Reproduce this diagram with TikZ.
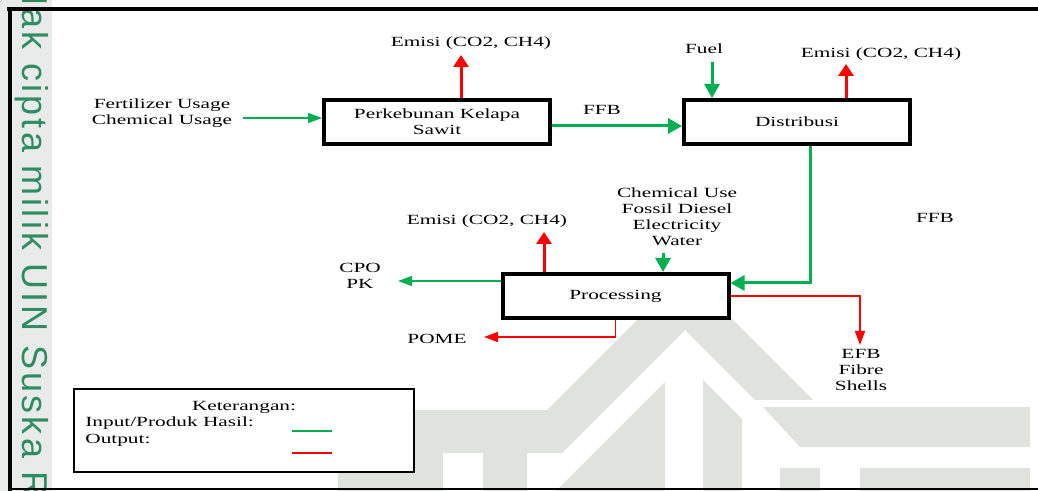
\documentclass[tikz,border=0pt]{standalone}
\usepackage{fontspec}
\setmainfont[FakeStretch=1.52]{Liberation Serif}
\newfontfamily\wmfont[LetterSpace=9]{Liberation Sans}
\usetikzlibrary{arrows.meta}
\definecolor{ingreen}{RGB}{0,176,80}
\definecolor{outred}{RGB}{255,0,0}
\definecolor{wmgrey}{RGB}{224,226,221}
\definecolor{stripgrey}{RGB}{233,235,234}
\definecolor{wmteal}{RGB}{46,140,96}

\begin{document}
\begin{tikzpicture}[x=0.5pt,y=-0.5pt,font=\fontsize{7}{8}\selectfont]
  \tikzstyle{blok}=[draw,line width=2pt,fill=white,minimum width=113pt,minimum height=22pt,align=center,inner sep=0pt]
  \tikzstyle{teks}=[align=center,inner sep=1pt]
  \tikzstyle{inthick}=[ingreen,line width=1.5pt,-{Triangle[length=7pt,width=7.5pt]}]
  \tikzstyle{inthin}=[ingreen,line width=0.75pt,-{Triangle[length=7pt,width=5pt]}]
  \tikzstyle{outthick}=[outred,line width=1.5pt,-{Triangle[length=6pt,width=7.5pt]}]
  \tikzstyle{outthin}=[outred,line width=0.75pt,-{Triangle[length=7pt,width=5pt]}]

  \useasboundingbox (0,0) rectangle (1038,491);

  % WATERMARK
  \fill[stripgrey] (0,0) rectangle (52,491);
  \begin{scope}
    \clip (0,0) rectangle (52,491);
    \node[wmteal,rotate=-90,anchor=base west,inner sep=0pt,font=\wmfont\fontsize{18}{18}\selectfont] (hakcipta) at (23,-21) {Hak cipta milik UIN Suska Riau};
  \end{scope}
  \fill[wmgrey] (338,410) -- (547,410) -- (685,272) -- (813,400) -- (755,400) -- (685,330) -- (562,453) -- (527,453) -- (527,491) -- (483,491) -- (483,453) -- (443,453) -- (443,491) -- (338,491) -- cycle;
  \fill[wmgrey] (556,491) -- (665,382) -- (665,491) -- cycle;
  \fill[wmgrey] (703,380) -- (742,419) -- (742,491) -- (703,491) -- cycle;
  \fill[wmgrey] (763,407) -- (1030,407) -- (1030,447) -- (800,447) -- cycle;
  \fill[wmgrey] (780,468) rectangle (820,491);
  \fill[wmgrey] (860,468) rectangle (1030,491);

  % FRAME
  \draw[line width=2pt] (7,9) -- (1038,9);
  \draw[line width=2pt] (10,9) -- (10,491);
  \draw[line width=1pt] (10,488.5) -- (1038,488.5);

  % PROSES
  \node[blok] (kebun) at (437,122) {Perkebunan Kelapa\\Sawit};
  \node[blok] (distribusi) at (797,122) {Distribusi};
  \node[blok] (processing) at (615.5,296) {Processing};

  % LABEL
  \node[teks] (emisiA) at (471,43) {Emisi (CO2, CH4)};
  \node[teks] (fuel) at (704,49) {Fuel};
  \node[teks] (emisiB) at (881,54) {Emisi (CO2, CH4)};
  \node[teks] (ffbA) at (602,110) {FFB};
  \node[teks] (ffbB) at (935,218) {FFB};
  \node[teks] (pupuk) at (162,113) {Fertilizer Usage\\Chemical Usage};
  \node[teks] (bahan) at (677,217) {Chemical Use\\Fossil Diesel\\Electricity\\Water};
  \node[teks] (emisiC) at (487,221) {Emisi (CO2, CH4)};
  \node[teks] (produk) at (360,276) {CPO\\PK};
  \node[teks] (pome) at (437,339) {POME};
  \node[teks] (limbah) at (861,370) {EFB\\Fibre\\Shells};

  % ALIRAN
  \coordinate (inK) at (243,118);
  \coordinate (outK) at (461,55);
  \coordinate (inD) at (712,62);
  \coordinate (outD) at (846,64);
  \coordinate (inP) at (663,253);
  \coordinate (outP) at (544,232);
  \coordinate (tipCPO) at (398,281);
  \coordinate (tipPOME) at (484,337);
  \coordinate (tipEFB) at (860,345);

  \draw[inthin] (inK) -- (kebun.west |- inK);
  \draw[outthick] (kebun.north -| outK) -- (outK);
  \draw[inthick] ([yshift=-2pt]kebun.east) -- ([yshift=-2pt]distribusi.west);
  \draw[inthick] (inD) -- (distribusi.north -| inD);
  \draw[outthick] (distribusi.north -| outD) -- (outD);
  \draw[inthick] ([xshift=6.5pt]distribusi.south) |- ([yshift=6.5pt]processing.east);
  \draw[inthick] (inP) -- (processing.north -| inP);
  \draw[outthick] (processing.north -| outP) -- (outP);
  \draw[inthin] (processing.west |- tipCPO) -- (tipCPO);
  \draw[outthin] (processing.south) |- (tipPOME);
  \draw[outthin] (processing.east) -| (tipEFB);

  % KETERANGAN
  \node[draw,line width=0.7pt,fill=white,minimum width=170pt,minimum height=41.5pt,inner sep=0pt] (legend) at (244,430.5) {};
  \node[teks] (ket) at (244,407) {Keterangan:};
  \node[teks,anchor=west] (ketIn) at (83,423) {Input/Produk Hasil:};
  \node[teks,anchor=west] (ketOut) at (83,440) {Output:};
  \draw[ingreen,line width=0.75pt] (292,431) -- (332,431);
  \draw[outred,line width=0.75pt] (292,453) -- (332,453);
\end{tikzpicture}
\end{document}
